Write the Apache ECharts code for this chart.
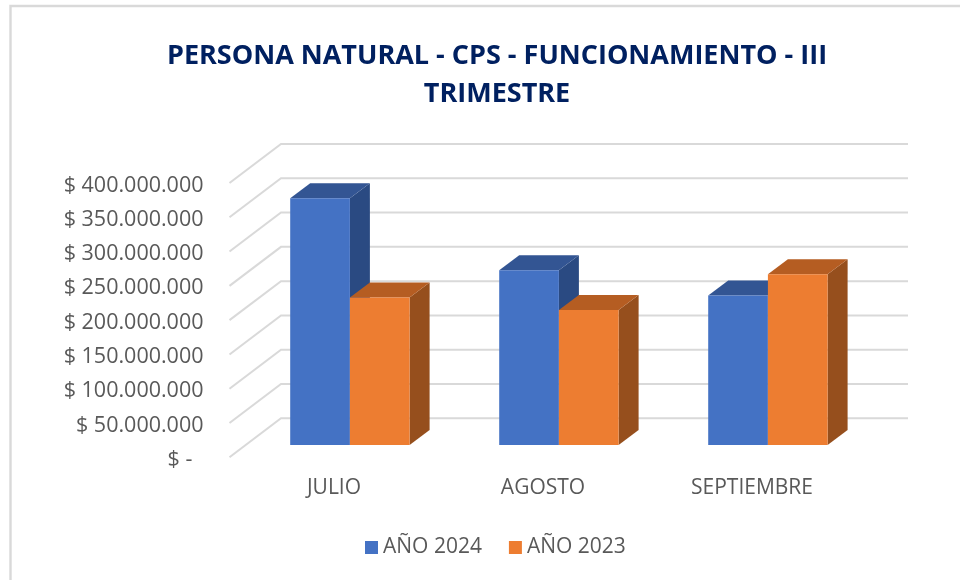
<!DOCTYPE html>
<html>
<head>
<meta charset="utf-8">
<title>Persona natural</title>
<script src="https://cdn.jsdelivr.net/npm/echarts@6/dist/echarts.min.js"></script>
<style>
html, body { margin: 0; padding: 0; background: #fff; }
#chart { width: 960px; height: 580px; filter: blur(0.4px); }
</style>
</head>
<body>
<div id="chart"></div>
<script>
var categories = ['JULIO', 'AGOSTO', 'SEPTIEMBRE'];
var values2024 = [360000000, 255000000, 218000000];
var values2023 = [215000000, 197000000, 249000000];
var yTicks = [0, 50000000, 100000000, 150000000, 200000000, 250000000, 300000000, 350000000, 400000000];
var yTickLabels = ['$ -  ', '$ 50.000.000', '$ 100.000.000', '$ 150.000.000', '$ 200.000.000', '$ 250.000.000', '$ 300.000.000', '$ 350.000.000', '$ 400.000.000'];

var font = '"Open Sans", sans-serif';
var myChart = echarts.init(document.getElementById('chart'));

// pared del fondo: diagonal + linea horizontal por cada tick
function renderWall(params, api) {
    var y = api.coord([0, api.value(0)])[1];
    var x = params.coordSys.x;
    return {
        type: 'polyline',
        shape: { points: [[x, y], [x + 51.5, y - 39], [x + params.coordSys.width + 51.5, y - 39]] },
        style: { stroke: '#d9d9d9', lineWidth: 2, fill: null }
    };
}

// barra 3D: frente, tapa y lado. side = -1 izquierda, 0 derecha
function bar3d(side, front, top, right) {
    return function (params, api) {
        var idx = api.value(0);
        var p = api.coord([idx, api.value(1)]);
        var b = api.coord([idx, 0]);
        var w = 59.7;
        var x0 = p[0] + 15.9 + side * w;
        var x1 = x0 + w;
        var yTop = p[1] - 12.3;
        var yBase = b[1] - 12.3;
        return {
            type: 'group',
            children: [
                { type: 'polygon', shape: { points: [[x1, yTop], [x1 + 20, yTop - 15], [x1 + 20, yBase - 15], [x1, yBase]] }, style: { fill: right } },
                { type: 'polygon', shape: { points: [[x0, yTop], [x0 + 20, yTop - 15], [x1 + 20, yTop - 15], [x1, yTop]] }, style: { fill: top } },
                { type: 'rect', shape: { x: x0, y: yTop, width: w, height: yBase - yTop }, style: { fill: front } }
            ]
        };
    };
}

var option = {
    animation: false,
    backgroundColor: '#fff',
    title: {
        text: 'PERSONA NATURAL - CPS - FUNCIONAMIENTO - III\nTRIMESTRE',
        left: 492,
        top: 32,
        textAlign: 'center',
        textStyle: { fontFamily: font, fontSize: 27, fontWeight: 'bold', color: '#002060', lineHeight: 38 }
    },
    graphic: [{
        type: 'polyline',
        shape: { points: [[10.5, 580], [10.5, 6], [960, 6]] },
        style: { stroke: '#d9d9d9', lineWidth: 2.4, fill: null },
        silent: true
    }],
    legend: {
        left: 360,
        top: 532,
        data: ['AÑO 2024', 'AÑO 2023'],
        icon: 'rect',
        itemWidth: 13,
        itemHeight: 13,
        itemGap: 27,
        textStyle: { fontFamily: font, fontSize: 21, color: '#595959' }
    },
    grid: { left: 229.5, top: 183, width: 627, height: 274.3 },
    xAxis: {
        type: 'category',
        data: categories,
        axisLine: { show: false },
        axisTick: { show: false },
        axisLabel: { fontFamily: font, fontSize: 21, color: '#595959', margin: 20 }
    },
    yAxis: {
        type: 'value',
        min: 0,
        max: 400000000,
        interval: 50000000,
        axisLine: { show: false },
        axisTick: { show: false },
        splitLine: { show: false },
        axisLabel: {
            margin: 26,
            formatter: function (v) { return '{a|' + yTickLabels[yTicks.indexOf(v)] + '}'; },
            rich: { a: { fontFamily: font, fontSize: 21.5, color: '#595959', padding: [5, 0, 0, 0] } }
        }
    },
    series: [
        { name: 'walls', type: 'custom', renderItem: renderWall, data: yTicks.map(function (v) { return [v]; }), encode: { y: 0 }, silent: true, z: 1 },
        {
            name: 'AÑO 2024', type: 'custom', z: 2,
            itemStyle: { color: '#4472c4' },
            renderItem: bar3d(-1, '#4472c4', '#335593', '#2a4a82'),
            encode: { x: 0, y: 1 },
            data: values2024.map(function (v, i) { return [i, v]; })
        },
        {
            name: 'AÑO 2023', type: 'custom', z: 3,
            itemStyle: { color: '#ed7d31' },
            renderItem: bar3d(0, '#ed7d31', '#b55d22', '#964f1d'),
            encode: { x: 0, y: 1 },
            data: values2023.map(function (v, i) { return [i, v]; })
        }
    ]
};
myChart.setOption(option);
</script>
</body>
</html>
